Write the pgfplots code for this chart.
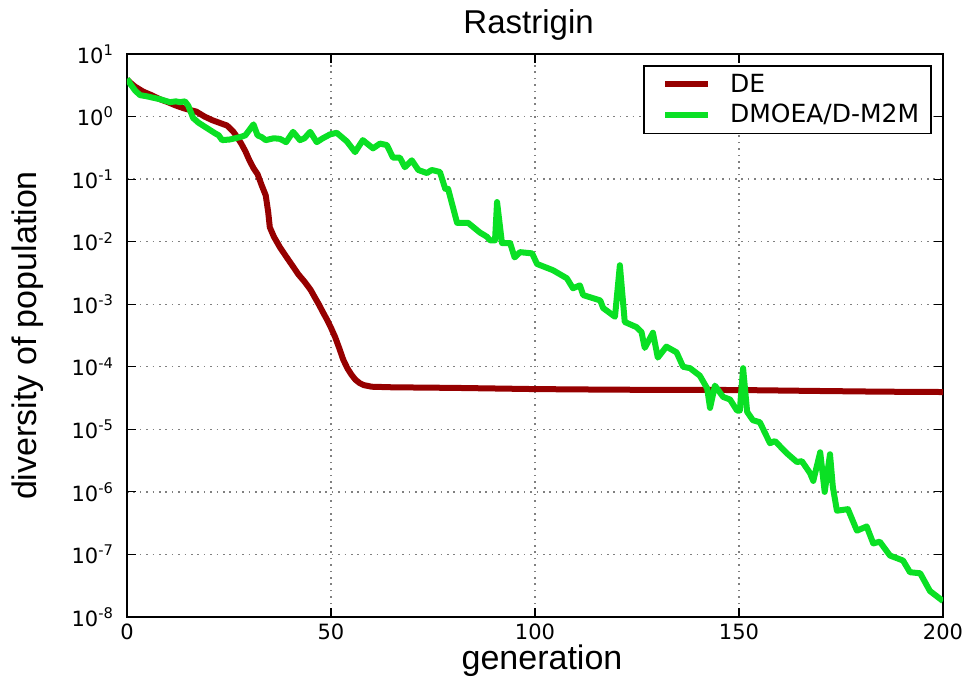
\documentclass[border=0pt]{standalone}
\usepackage{fontspec}
\setmainfont{Liberation Sans}
\newfontfamily\dejavu{DejaVu Sans}
\usepackage{pgfplots}
\pgfplotsset{compat=1.18}
\definecolor{dered}{RGB}{150,0,0}
\definecolor{mgreen}{RGB}{10,224,36}
\begin{document}
\begin{tikzpicture}
\useasboundingbox (-63.5pt,-31pt) rectangle (422.5pt,308.5pt);
\begin{axis}[
  at={(0pt,0pt)}, anchor=south west,
  scale only axis, width=408pt, height=281.5pt,
  xmin=0, xmax=200, ymin=1e-8, ymax=10,
  ymode=log, log basis y=10,
  xtick={0,50,100,150,200},
  ytick={1e-8,1e-7,1e-6,1e-5,1e-4,1e-3,1e-2,1e-1,1,10},
  yticklabels={10\textsuperscript{-8},10\textsuperscript{-7},10\textsuperscript{-6},10\textsuperscript{-5},10\textsuperscript{-4},10\textsuperscript{-3},10\textsuperscript{-2},10\textsuperscript{-1},10\textsuperscript{0},10\textsuperscript{1}},
  /pgf/number format/assume math mode=true,
  ticklabel style={font=\dejavu\fontsize{10.5}{12}\selectfont},
  yticklabel style={xshift=-3pt},
  grid=major,
  major grid style={black!50, dash pattern=on 0.8pt off 2.4pt, line width=0.7pt},
  axis line style={line width=0.8pt},
  tick style={black, line width=0.6pt},
  major tick length=4.5pt, minor tick length=2.5pt,
  title={Rastrigin},
  title style={at={(axis description cs:0.5,1.0373)}, anchor=base, yshift=-6pt, xshift=-3.2pt, font=\fontsize{16.5}{18}\selectfont},
  xlabel={generation},
  xlabel style={at={(axis description cs:0.5,-0.0941)}, anchor=base, xshift=3.5pt, font=\fontsize{17}{19}\selectfont},
  ylabel={diversity of population},
  ylabel style={at={(axis description cs:-0.1103,0.5)}, anchor=base, font=\fontsize{17}{19}\selectfont},
  legend cell align=left,
  legend image code/.code={\path (-5pt,0pt) (29pt,0pt); \draw[#1] (0pt,0pt) -- (21.5pt,0pt);},
  legend style={at={(axis description cs:0.9865,0.9805)}, anchor=north east,
    draw=black, line width=0.8pt, font=\dejavu\fontsize{12.5}{14}\selectfont,
    inner xsep=4pt, inner ysep=2.5pt, row sep=1.5pt, nodes={inner ysep=1.5pt}},
]
\addplot[dered, line width=3pt, line join=round] coordinates {
(0,3.9) (1,3.4) (2,3.0) (4,2.5) (6,2.2) (8,1.9) (10,1.7) (12,1.5) (14,1.35) (17,1.2)
(19,1.0) (21,0.87) (23,0.78) (24.5,0.72) (26,0.58) (27,0.47) (28,0.37) (29,0.28) (30,0.2)
(31,0.15) (32,0.12) (33,0.08) (34,0.055) (34.6,0.03) (35,0.017) (36,0.012) (37.5,0.0081)
(39,0.0058) (40.7,0.004) (42,0.003) (43.5,0.0023) (45,0.0017) (46,0.0013) (47,0.001)
(48,7.5e-4) (49,5.7e-4) (50,4.2e-4) (51,3e-4) (52,2e-4) (53,1.3e-4) (54,9.5e-5) (55,7.5e-5)
(56,6.2e-5) (57,5.5e-5) (58,5.1e-5) (60,4.8e-5) (65,4.7e-5) (80,4.6e-5) (100,4.4e-5)
(120,4.3e-5) (150,4.25e-5) (170,4.1e-5) (185,4.0e-5) (200,3.95e-5)
};
\addlegendentry{DE}
\addplot[mgreen, line width=3pt, line join=round] coordinates {
(0,4.0) (1,3.2) (2,2.6) (3.2,2.2) (5,2.1) (6.4,2.0) (8,1.9) (10.5,1.7) (12,1.75) (13,1.7)
(14.2,1.75) (15,1.5) (16.2,0.95) (17.5,0.8) (19.5,0.66) (21.6,0.54) (22.5,0.5) (23.3,0.42)
(25.2,0.43) (26.5,0.45) (27.7,0.47) (29,0.5) (31,0.75) (32,0.5) (33,0.47) (34,0.42)
(36,0.45) (37.5,0.44) (39,0.39) (40.7,0.57) (42.4,0.42) (43.5,0.45) (44.9,0.57) (46.5,0.39)
(48,0.45) (49.8,0.52) (51.4,0.55) (53.9,0.4) (55.9,0.27) (57.8,0.42) (60.3,0.31) (62,0.37)
(63.7,0.35) (65.2,0.22) (66.9,0.22) (68.1,0.155) (69.8,0.2) (71.4,0.14) (73.5,0.125)
(74.7,0.14) (76.7,0.13) (78,0.07) (78.7,0.07) (80.9,0.02) (83.6,0.02) (86.5,0.014)
(88.2,0.012) (89,0.0105) (90.2,0.0105) (90.7,0.043) (91.9,0.0095) (93.9,0.0095) (95,0.0056)
(96.3,0.0068) (99.3,0.0065) (100.5,0.0044) (104.4,0.0035) (107.8,0.0026) (109.3,0.0018)
(111,0.002) (111.8,0.0014) (116,0.00115) (116.7,8.7e-4) (119.6,6.3e-4) (120.8,0.0042)
(122,5.2e-4) (124.9,4.3e-4) (126.1,3.6e-4) (126.9,2e-4) (128.9,3.5e-4) (130.1,1.4e-4)
(132.2,2.1e-4) (134.7,1.7e-4) (136.3,1e-4) (138,9.5e-5) (140.4,7.2e-5) (142.2,4.5e-5)
(142.9,2.2e-5) (144.1,5e-5) (146.1,3.3e-5) (147.8,3e-5) (149.5,2e-5) (150.2,2e-5)
(151,9.5e-5) (152,1.9e-5) (153.4,1.4e-5) (155.1,1.3e-5) (157.6,6e-6) (158.8,6.5e-6)
(161.8,4.1e-6) (164.2,3e-6) (165.4,3.1e-6) (167.4,2e-6) (168.2,1.5e-6) (169.9,4.3e-6)
(171,1e-6) (172.3,4e-6) (173,1.2e-6) (174,5e-7) (176.7,5.3e-7) (178.9,2.4e-7) (181.3,2.8e-7)
(182.9,1.5e-7) (184.5,1.6e-7) (187,9.6e-8) (190.2,8e-8) (191.9,5.2e-8) (194.4,5e-8)
(196.8,2.6e-8) (200,1.8e-8)
};
\addlegendentry{DMOEA/D-M2M}
\end{axis}
\end{tikzpicture}
\end{document}
